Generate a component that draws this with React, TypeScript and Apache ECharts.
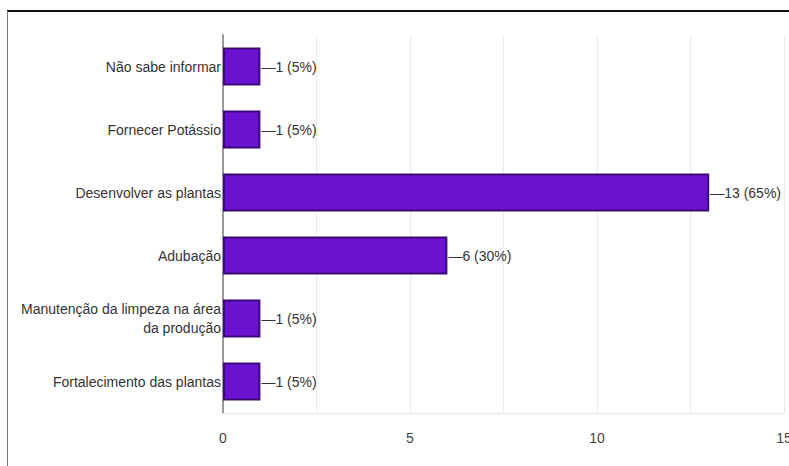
import React, { useEffect, useRef } from "react";
import * as echarts from "echarts";

const categories = [
  "Não sabe informar",
  "Fornecer Potássio",
  "Desenvolver as plantas",
  "Adubação",
  "Manutenção da limpeza na área\nda produção",
  "Fortalecimento das plantas",
];
const counts = [1, 1, 13, 6, 1, 1];
const percents = [5, 5, 65, 30, 5, 5];
const xTicks = [0, 5, 10, 15];

const FONT = "'Liberation Sans Narrow', 'Liberation Sans', Arial, sans-serif";

export default function App() {
  const ref = useRef<HTMLDivElement>(null);
  useEffect(() => {
    if (!ref.current) return;
    const chart = echarts.init(ref.current, null, { renderer: "svg" });
    chart.setOption({
      animation: false,
      backgroundColor: "#ffffff",
      textStyle: { fontFamily: FONT },
      graphic: [
        { type: "line", shape: { x1: 7, y1: 11, x2: 789, y2: 11 }, style: { stroke: "#111", lineWidth: 2 } },
        { type: "line", shape: { x1: 7.5, y1: 11, x2: 7.5, y2: 466 }, style: { stroke: "#777", lineWidth: 1 } },
      ],
      grid: { left: 223, top: 35, right: 5, bottom: 53, containLabel: false, outerBoundsMode: "none" },
      xAxis: {
        type: "value",
        min: 0,
        max: 15,
        interval: 2.5,
        axisLine: { show: true, lineStyle: { color: "#ecebdf", width: 1 } },
        axisTick: { show: false },
        splitLine: { show: true, lineStyle: { color: "#ecebdf", width: 1 } },
        axisLabel: {
          color: "#444",
          fontSize: 14,
          fontFamily: FONT,
          margin: 18,
          hideOverlap: false,
          formatter: (v: number) => (xTicks.includes(v) ? String(v) : ""),
        },
      },
      yAxis: {
        type: "category",
        data: categories,
        inverse: true,
        axisLine: { show: true, lineStyle: { color: "#999", width: 2 } },
        axisTick: { show: false },
        axisLabel: {
          color: "#333",
          fontSize: 14,
          fontFamily: FONT,
          margin: 2,
          align: "right",
          lineHeight: 19,
        },
      },
      series: [
        {
          type: "bar",
          data: counts,
          barWidth: "60%",
          itemStyle: { color: "#6a12cf", borderColor: "#3b0a78", borderWidth: 2 },
          label: {
            show: true,
            position: "right",
            distance: 1,
            color: "#333",
            fontSize: 14,
            fontFamily: FONT,
            formatter: (p: any) => `—${counts[p.dataIndex]} (${percents[p.dataIndex]}%)`,
          },
        },
      ],
    });
    return () => chart.dispose();
  }, []);
  return (
    <div
      ref={ref}
      style={{ position: "fixed", left: 0, top: 0, width: 789, height: 466 }}
    />
  );
}
